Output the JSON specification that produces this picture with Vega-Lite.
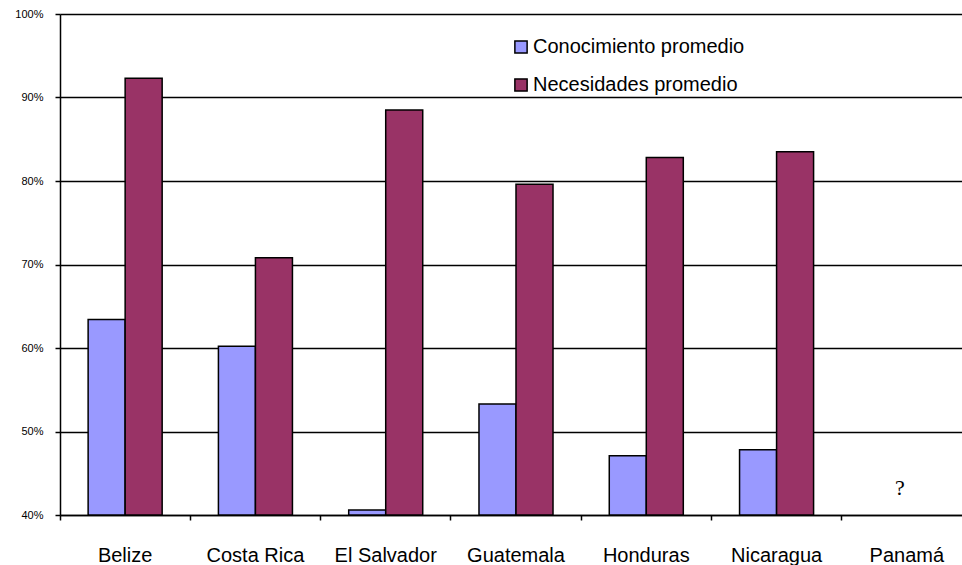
{
  "$schema": "https://vega.github.io/schema/vega-lite/v6.json",
  "autosize": {"type": "none"},
  "width": 912,
  "height": 501,
  "padding": {"left": 60, "top": 14, "right": 0, "bottom": 50},
  "background": "white",
  "config": {
    "view": {"stroke": null},
    "font": "Liberation Sans"
  },
  "datasets": {
    "bars": [
      {"country": "Belize", "serie": "Conocimiento promedio", "value": 0.634},
      {"country": "Belize", "serie": "Necesidades promedio", "value": 0.923},
      {"country": "Costa Rica", "serie": "Conocimiento promedio", "value": 0.602},
      {"country": "Costa Rica", "serie": "Necesidades promedio", "value": 0.708},
      {"country": "El Salvador", "serie": "Conocimiento promedio", "value": 0.406},
      {"country": "El Salvador", "serie": "Necesidades promedio", "value": 0.885},
      {"country": "Guatemala", "serie": "Conocimiento promedio", "value": 0.533},
      {"country": "Guatemala", "serie": "Necesidades promedio", "value": 0.796},
      {"country": "Honduras", "serie": "Conocimiento promedio", "value": 0.471},
      {"country": "Honduras", "serie": "Necesidades promedio", "value": 0.828},
      {"country": "Nicaragua", "serie": "Conocimiento promedio", "value": 0.478},
      {"country": "Nicaragua", "serie": "Necesidades promedio", "value": 0.835}
    ],
    "notes": [
      {"country": "Panamá", "value": 0.432, "label": "?"}
    ]
  },
  "encoding": {
    "x": {
      "field": "country",
      "type": "nominal",
      "sort": null,
      "scale": {
        "domain": ["Belize", "Costa Rica", "El Salvador", "Guatemala", "Honduras", "Nicaragua", "Panamá"],
        "paddingInner": 0,
        "paddingOuter": 0
      },
      "axis": {
        "title": null,
        "labelAngle": 0,
        "labelFontSize": 20,
        "labelColor": "black",
        "labelPadding": 25,
        "domainColor": "black",
        "domainWidth": 1.5,
        "tickColor": "black",
        "tickWidth": 1.5,
        "tickSize": 5,
        "bandPosition": 0,
        "grid": false
      }
    },
    "y": {
      "field": "value",
      "type": "quantitative",
      "scale": {"domain": [0.4, 1.0], "zero": false, "nice": false},
      "axis": {
        "title": null,
        "format": ".0%",
        "values": [0.4, 0.5, 0.6, 0.7, 0.8, 0.9, 1.0],
        "labelFontSize": 11,
        "labelColor": "black",
        "labelPadding": 12,
        "domainColor": "black",
        "domainWidth": 1.5,
        "tickColor": "black",
        "tickWidth": 1.5,
        "tickSize": 5,
        "grid": true,
        "gridColor": "black",
        "gridWidth": 1.5,
        "gridOpacity": 1
      }
    }
  },
  "layer": [
    {
      "data": {"name": "bars"},
      "mark": {"type": "bar", "stroke": "black", "strokeWidth": 1.5},
      "encoding": {
        "xOffset": {
          "field": "serie",
          "type": "nominal",
          "scale": {"paddingInner": 0, "paddingOuter": 0.76}
        },
        "y2": {"datum": 0.4},
        "color": {
          "field": "serie",
          "type": "nominal",
          "scale": {
            "domain": ["Conocimiento promedio", "Necesidades promedio"],
            "range": ["#9999FF", "#993366"]
          },
          "legend": {
            "title": null,
            "orient": "none",
            "legendX": 451,
            "legendY": 23,
            "padding": 0,
            "symbolType": "square",
            "symbolSize": 150,
            "symbolStrokeColor": "black",
            "symbolStrokeWidth": 1.5,
            "symbolOpacity": 1,
            "labelFontSize": 20,
            "labelColor": "black",
            "labelOffset": 2,
            "rowPadding": 18,
            "labelLimit": 400
          }
        }
      }
    },
    {
      "data": {"name": "notes"},
      "mark": {"type": "text", "font": "Liberation Serif", "fontSize": 22, "color": "black", "dx": -7},
      "encoding": {
        "text": {"field": "label"}
      }
    }
  ]
}
